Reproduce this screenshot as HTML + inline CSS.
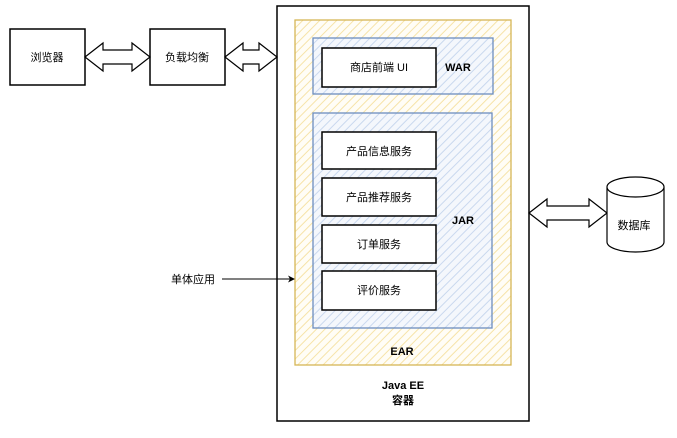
<!DOCTYPE html>
<html><head><meta charset="utf-8"><style>
body{margin:0;background:#fff}
text{font-family:"Liberation Sans","Noto Sans CJK SC",sans-serif;font-size:11px;fill:#000}
</style></head><body>
<svg width="677" height="433" viewBox="0 0 677 433" xmlns="http://www.w3.org/2000/svg">
<defs>
<pattern id="hy" width="6" height="6" patternUnits="userSpaceOnUse" patternTransform="rotate(45)">
<rect width="6" height="6" fill="#fffdf6"/><line x1="0" y1="0" x2="0" y2="6" stroke="#f6e3a8" stroke-width="2"/></pattern>
<pattern id="hb" width="6" height="6" patternUnits="userSpaceOnUse" patternTransform="rotate(45)">
<rect width="6" height="6" fill="#f4f7fc"/><line x1="0" y1="0" x2="0" y2="6" stroke="#c9d8ee" stroke-width="2"/></pattern>
</defs>
<rect x="277" y="6" width="252" height="415" fill="#fff" stroke="#000" stroke-width="1.5"/>
<rect x="295" y="20" width="216" height="345" fill="url(#hy)" stroke="#d6b656" stroke-width="1.3"/>
<rect x="313" y="38" width="180" height="56" fill="url(#hb)" stroke="#6c8ebf" stroke-width="1.3"/>
<rect x="313" y="113" width="179" height="215" fill="url(#hb)" stroke="#6c8ebf" stroke-width="1.3"/>
<g fill="#fff" stroke="#000" stroke-width="1.5">
<rect x="322" y="48" width="114" height="39"/>
<rect x="322" y="132" width="114" height="37"/>
<rect x="322" y="178" width="114" height="38"/>
<rect x="322" y="225" width="114" height="38"/>
<rect x="322" y="271" width="114" height="39"/>
<rect x="10" y="29" width="75" height="56"/>
<rect x="150" y="29" width="75" height="56"/>
</g>
<g fill="#fff" stroke="#000" stroke-width="1.2">
<path d="M85,57 L103,43 L103,50 L132,50 L132,43 L150,57 L132,71 L132,64 L103,64 L103,71 Z"/>
<path d="M225,57 L243,43 L243,50 L259,50 L259,43 L277,57 L259,71 L259,64 L243,64 L243,71 Z"/>
<path d="M529,213 L547,199 L547,206 L589,206 L589,199 L607,213 L589,227 L589,220 L547,220 L547,227 Z"/>
<path d="M607,187 L607,242 A28.5,10 0 0 0 664,242 L664,187 A28.5,10 0 0 0 607,187 A28.5,10 0 0 0 664,187"/>
</g>
<g text-anchor="middle">
<text x="379" y="71">商店前端 UI</text>
<text x="379" y="155">产品信息服务</text>
<text x="379" y="201">产品推荐服务</text>
<text x="379" y="248">订单服务</text>
<text x="379" y="294">评价服务</text>
<text x="47" y="61">浏览器</text>
<text x="187" y="61">负载均衡</text>
<text x="634" y="229">数据库</text>
<text x="458" y="71" font-weight="bold">WAR</text>
<text x="463" y="224" font-weight="bold">JAR</text>
<text x="402" y="355" font-weight="bold">EAR</text>
<text x="403" y="389" font-weight="bold">Java EE</text>
<text x="403" y="404" font-weight="bold">容器</text>
<text x="193" y="283">单体应用</text>
</g>
<line x1="222" y1="279" x2="290" y2="279" stroke="#000" stroke-width="1"/>
<path d="M295,279 L288,275.5 L290,279 L288,282.5 Z" fill="#000"/>
</svg>
</body></html>
